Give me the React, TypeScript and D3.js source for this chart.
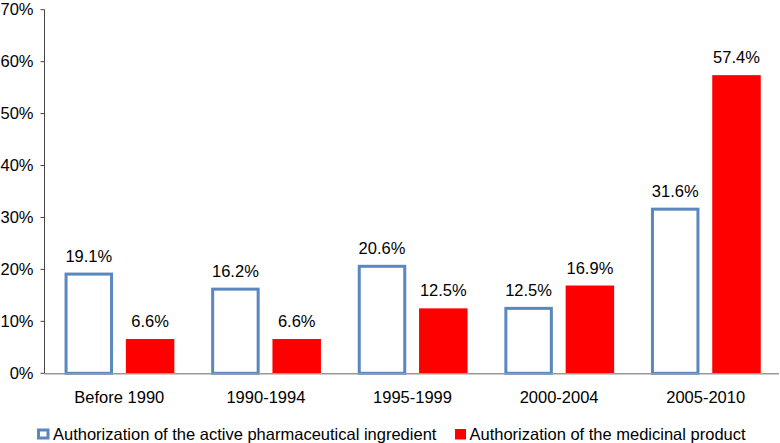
import React from "react";
import * as d3 from "d3";

const categories = ["Before 1990", "1990-1994", "1995-1999", "2000-2004", "2005-2010"];
const activeIngredient = [19.1, 16.2, 20.6, 12.5, 31.6];
const medicinalProduct = [6.6, 6.6, 12.5, 16.9, 57.4];
const yTicks = [0, 10, 20, 30, 40, 50, 60, 70];
const seriesNames = [
  "Authorization of the active pharmaceutical ingredient",
  "Authorization of the medicinal product",
];

const BLUE = "#5b87bf";
const RED = "#ff0000";
const FONT = "'Liberation Sans', Arial, Helvetica, sans-serif";
const FS = 16.5;

export default function App() {
  const W = 780, H = 443;
  const x = d3.scaleBand<string>().domain(categories).range([46, 779]);
  const y = d3.scaleLinear().domain([0, 70]).range([373.3, 9.7]);
  const bw = 48.5;
  const blueOff = -30.5;
  const redOff = 30.8;

  return (
    <svg width={W} height={H} style={{ position: "absolute", left: 0, top: 0 }} fontFamily={FONT}>
      <rect width={W} height={H} fill="#fff" />
      {/* y axis */}
      <line x1={44.5} x2={44.5} y1={y(70)} y2={y(0)} stroke="#444" strokeWidth={1} />
      {yTicks.map((t) => (
        <g key={t}>
          <line x1={40.5} x2={44.5} y1={y(t)} y2={y(t)} stroke="#444" strokeWidth={1} />
          <text x={33.5} y={y(t)} dy="0.35em" textAnchor="end" fontSize={FS} fill="#000">
            {t}%
          </text>
        </g>
      ))}
      {/* bars */}
      {categories.map((c, i) => {
        const cx = (x(c) as number) + x.bandwidth() / 2;
        const bx = cx + blueOff;
        const rx = cx + redOff;
        return (
          <g key={c}>
            <rect
              x={bx - bw / 2 + 1.5}
              y={y(activeIngredient[i])}
              width={bw - 3}
              height={y(0) - y(activeIngredient[i])}
              fill="#fff"
              stroke={BLUE}
              strokeWidth={3}
            />
            <rect
              x={rx - bw / 2}
              y={y(medicinalProduct[i])}
              width={bw}
              height={y(0) - y(medicinalProduct[i])}
              fill={RED}
            />
            <text x={bx} y={y(activeIngredient[i]) - 12} textAnchor="middle" fontSize={FS} fill="#000">
              {activeIngredient[i].toFixed(1)}%
            </text>
            <text x={rx} y={y(medicinalProduct[i]) - 12} textAnchor="middle" fontSize={FS} fill="#000">
              {medicinalProduct[i].toFixed(1)}%
            </text>
            <text x={cx} y={403} textAnchor="middle" fontSize={FS} fill="#000">
              {c}
            </text>
          </g>
        );
      })}
      {/* x axis */}
      <line x1={44} x2={779} y1={373.8} y2={373.8} stroke="#999" strokeWidth={1.5} />
      {/* legend */}
      <rect x={38.5} y={430} width={9.5} height={8} fill="#fff" stroke={BLUE} strokeWidth={3} />
      <text x={53} y={439.5} fontSize={FS} fill="#000">{seriesNames[0]}</text>
      <rect x={455} y={429} width={11} height={10.5} fill={RED} />
      <text x={469.5} y={439.5} fontSize={FS} fill="#000">{seriesNames[1]}</text>
    </svg>
  );
}
